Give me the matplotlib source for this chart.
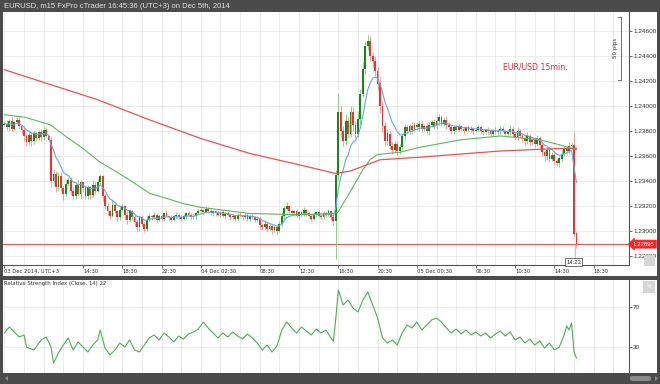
import numpy as np
import pandas as pd
import matplotlib
matplotlib.use("Agg")
import matplotlib.pyplot as plt
from matplotlib.patches import Rectangle, FancyBboxPatch, Polygon
from matplotlib.ticker import FormatStrFormatter

# ---- data (prices in pips above 1.2000, 15 min candles from 03 Dec 06:30) ----
closes = [
    386, 383, 388, 382, 387, 389, 384, 381, 376, 371, 377, 372, 378, 374, 379, 375, 381, 376, 373,
    340, 346, 335, 344, 334, 330, 338, 341, 332, 328, 337, 330, 339, 334, 328, 335, 329, 337, 332, 339, 344,
    328, 320, 316, 312, 321, 316, 311, 317, 320, 313, 309, 316, 311, 307, 303, 311, 306, 302, 309, 312,
    311, 313, 309, 312, 310, 314, 312, 311, 309, 312, 313, 311, 310, 312, 314, 313, 311, 312, 314, 316,
    317, 315, 318, 316, 314, 316, 314, 313, 315, 312, 314, 313, 311, 312, 310, 313, 312, 311, 313, 310, 312, 311, 309, 310,
    305, 303, 306, 302, 304, 301, 303, 300, 306, 312, 318, 320, 316, 314, 316, 312, 315, 313, 317, 314, 312, 310,
    313, 315, 312, 311, 314, 313, 316, 311, 308,
    345, 395, 380, 372, 388, 378, 395, 385, 378, 390, 410, 430, 448, 452, 440, 436, 428, 418, 400, 384, 372, 378,
    368, 365, 370, 364, 367, 376, 383, 380, 384, 381, 385, 383, 386, 382, 384, 380, 385, 387, 384, 388, 391, 386,
    389, 385, 383,
    380, 383, 381, 384, 382, 380, 383, 381, 382, 380, 381, 383, 380, 379, 381, 380, 378, 381, 379, 380, 382, 380,
    378, 379, 382, 378, 375, 380, 376,
    374, 372, 376, 371, 373, 370, 374, 369, 363, 360, 365, 358, 361, 356, 354, 358, 362, 366, 364, 368, 369, 298, 289.5,
]
first_open = 385
up_wick = [
    2, 3, 2, 3, 1, 2, 4, 1, 3, 2, 3, 2, 3, 1, 2, 3, 2, 2, 1,
    3, 4, 2, 3, 3, 2, 4, 2, 2, 3, 1, 4, 2, 1, 3, 2, 1, 4, 2, 3, 2,
    1, 2, 3, 1, 4, 2, 1, 3, 2, 1, 3, 2, 1, 2, 3, 1, 2, 1, 3, 2,
    1, 2, 1, 2, 2, 1, 3, 1, 2, 1, 2, 1, 2, 2, 1, 2, 1, 2, 1, 2,
    2, 1, 2, 1, 2, 1, 1, 2, 1, 2, 1, 2, 1, 2, 1, 1, 2, 1, 2, 1, 1, 2, 1, 2,
    2, 1, 2, 1, 2, 1, 2, 1, 2, 3, 2, 3, 1, 2, 1, 2, 1, 2, 2, 1, 2, 1, 2, 1, 2, 1, 2, 1, 2, 1, 2,
    4, 15, 5, 4, 6, 3, 5, 4, 3, 6, 4, 5, 4, 5, 4, 3, 4, 3, 5, 4, 3, 4,
    2, 3, 2, 2, 3, 2, 3, 2, 2, 3, 2, 2, 3, 2, 2, 3, 2, 2, 3, 4, 3, 2, 2, 3, 2,
    2, 1, 2, 2, 1, 2, 1, 2, 2, 1, 2, 2, 1, 2, 1, 2, 2, 1, 2, 1, 2, 2, 1, 2, 3, 2, 2, 3, 2,
    2, 2, 3, 2, 2, 2, 3, 2, 3, 2, 3, 2, 2, 3, 2, 2, 3, 2, 2, 3, 2, 10, 1,
]
dn_wick = [
    1, 2, 3, 2, 2, 1, 2, 3, 4, 3, 2, 4, 2, 2, 1, 3, 2, 1, 2,
    5, 3, 4, 3, 2, 5, 2, 2, 3, 3, 2, 2, 4, 3, 2, 2, 3, 2, 2, 1, 2,
    4, 2, 3, 2, 1, 2, 3, 2, 1, 4, 3, 2, 2, 3, 4, 3, 2, 3, 2, 1,
    2, 1, 2, 1, 2, 2, 1, 2, 2, 1, 2, 1, 2, 1, 2, 1, 2, 1, 2, 1,
    1, 2, 1, 2, 1, 2, 2, 1, 2, 1, 2, 1, 2, 1, 2, 2, 1, 2, 1, 2, 2, 1, 2, 2,
    3, 2, 2, 3, 2, 3, 2, 3, 1, 2, 2, 1, 2, 1, 2, 1, 2, 2, 1, 2, 1, 2, 1, 2, 1, 2, 1, 2, 1, 2, 3,
    30, 4, 5, 4, 3, 4, 3, 5, 4, 3, 4, 3, 4, 3, 4, 5, 4, 5, 6, 5, 4, 3,
    2, 3, 2, 3, 2, 2, 3, 2, 2, 3, 2, 2, 2, 3, 2, 2, 3, 2, 2, 2, 3, 2, 2, 3, 2,
    2, 2, 1, 2, 2, 2, 1, 2, 2, 2, 1, 2, 2, 2, 1, 2, 2, 2, 1, 2, 2, 1, 2, 2, 2, 3, 2, 2, 2,
    2, 3, 2, 3, 2, 3, 2, 3, 3, 4, 3, 3, 2, 3, 2, 3, 2, 2, 2, 2, 2, 2, 3,
]

# slower moving averages, read at candle positions
ma_green_k = [0, 8.4, 18.6, 25.5, 32, 39, 45.9, 52.4, 59.3, 66.2, 72.7, 79.7, 100, 120, 134,
              135.9, 139.5, 142.8, 146, 148.9, 151.8, 155.8, 161.1, 169.3, 186, 202, 218, 226, 233]
ma_green = [393, 391, 385, 375, 366, 355, 347, 339, 330, 326, 322, 319, 314, 313, 314,
            315, 327, 338, 349, 357, 361, 362, 363, 367, 373, 376, 373, 369, 365]
ma_red_k = [0, 19, 38, 59, 80, 100, 120, 135, 141, 149, 153, 169, 202, 226, 233]
ma_red = [429, 417, 405, 389, 374, 362, 353, 346, 348, 354, 357, 359, 364, 366, 366]

# RSI(14)
rsi_k = [0, 2, 6, 8, 9, 12, 15, 17, 19, 20, 22, 24, 26, 28, 30, 32, 34, 36, 38, 39, 41, 43, 45, 47, 49, 51, 53,
         55, 57, 59, 61, 63, 65, 67, 69, 71, 73, 75, 77, 79, 81, 83, 85, 87, 89, 91, 93, 95, 97, 99, 101, 103,
         105, 107, 109, 111, 113, 115, 117, 119, 121, 123, 125, 127, 129, 131, 133, 134, 135, 136, 138, 140,
         142, 144, 146, 148, 150, 152, 154, 156, 158, 160, 162, 164, 166, 168, 170, 172, 174, 176, 178, 180,
         182, 184, 186, 188, 190, 192, 194, 196, 198, 200, 202, 204, 206, 208, 210, 212, 214, 216, 218, 220,
         222, 224, 226, 228, 229, 230, 231, 232, 233]
rsi = [44, 50, 40, 42, 30, 27, 37, 40, 30, 14, 24, 32, 39, 27, 35, 30, 25, 32, 37, 47, 29, 22, 27, 34, 30, 37, 27,
       25, 32, 39, 42, 37, 44, 40, 35, 41, 38, 43, 45, 48, 55, 49, 44, 39, 44, 40, 45, 41, 38, 43, 39, 34,
       27, 32, 25, 31, 47, 55, 49, 44, 50, 46, 42, 48, 44, 47, 39, 36, 59, 87, 72, 77,
       69, 65, 77, 85, 72, 59, 39, 34, 37, 32, 44, 52, 49, 55, 47, 52, 57, 59, 55, 49,
       44, 48, 43, 47, 42, 45, 41, 44, 39, 43, 46, 41, 45, 37, 40, 34, 38, 32, 36, 29,
       34, 27, 30, 42, 51, 47, 54, 25, 19]

start = pd.Timestamp("2014-12-03 06:30")
tick_times = ["2014-12-03 06:30", "2014-12-03 14:30", "2014-12-03 18:30", "2014-12-03 22:30",
              "2014-12-04 02:30", "2014-12-04 08:30", "2014-12-04 12:30", "2014-12-04 16:30",
              "2014-12-04 20:30", "2014-12-05 00:30", "2014-12-05 06:30", "2014-12-05 10:30",
              "2014-12-05 14:30", "2014-12-05 18:30"]
tick_labels = ["03 Dec 2014, UTC+3", "14:30", "18:30", "22:30", "04 Dec 02:30", "08:30", "12:30",
               "16:30", "20:30", "05 Dec 00:30", "06:30", "10:30", "14:30", "18:30"]
last_price = 1.22895

# ---- helpers ----
W, H = 660, 384
FRAME = "#4b4b4b"


def px(v):
    return 1.2 + np.asarray(v, dtype=float) / 10000.0


def box(x0, y0, x1, y1):
    return [x0 / W, 1 - y1 / H, (x1 - x0) / W, (y1 - y0) / H]


c = px(closes)
o = px([first_open] + closes[:-1])
hi = np.maximum(o, c) + np.array(up_wick) / 10000.0
lo = np.minimum(o, c) - np.array(dn_wick) / 10000.0
k = np.arange(len(c))
tick_k = [(pd.Timestamp(t) - start) / pd.Timedelta("15min") for t in tick_times]
xmin, xmax = -0.57, 254.4

plt.rcParams["font.family"] = ["DejaVu Sans"]
fig = plt.figure(figsize=(6.6, 3.84), dpi=100, facecolor=FRAME)

# white panels
for r in [(3, 12, 657, 276), (3, 280, 657, 373)]:
    b = box(*r)
    fig.add_artist(Rectangle((b[0], b[1]), b[2], b[3], transform=fig.transFigure,
                             fc="white", ec="none", zorder=0))

fig.text(4 / W, 1 - 6 / H, "EURUSD, m15 FxPro cTrader 16:45:36 (UTC+3) on Dec 5th, 2014",
         color="#e6e6e6", fontsize=5.5, family="Liberation Sans", va="center", ha="left")

# ---- price panel ----
ax = fig.add_axes(box(3, 12, 629, 265))
ax.set_facecolor("white")
ax.set_xlim(xmin, xmax)
ax.set_ylim(1.22728, 1.24752)

rising = c >= o
body_col = np.where(rising, "#138a13", "#ff2a2a")
wick_col = np.where(rising, "#7cc77c", "#ff8a8a")
ax.vlines(k, lo, hi, colors=wick_col, lw=0.6, zorder=3)
body_h = np.maximum(np.abs(c - o), 0.00003)
ax.bar(k, body_h, bottom=np.minimum(o, c), width=0.74, color=body_col, linewidth=0, zorder=4)

ema = pd.Series(c).ewm(span=9, adjust=False).mean()
ax.plot(k, ema, color="#64a8e6", lw=0.8, zorder=5)
ax.plot(ma_green_k, px(ma_green), color="#5cb85c", lw=0.8, zorder=5)
ax.plot(ma_red_k, px(ma_red), color="#f05050", lw=0.9, zorder=5)

ax.axhline(last_price, color="#ff4a4a", lw=0.7, zorder=2)
ax.text(1.006, last_price, "1.22895", transform=ax.get_yaxis_transform(), fontsize=4.4,
        family="Liberation Sans", color="white", va="center", ha="left", clip_on=False, zorder=10,
        bbox=dict(boxstyle="larrow,pad=0.25", fc="#ff2020", ec="#ff2020", lw=0.5))
ax.vlines(232.3, 1.22765, last_price, color="#ffa0a0", lw=0.6, zorder=3)
ax.text(231.8, 1.22752, "14:23", fontsize=4.2, color="#222", ha="center", va="center",
        family="Liberation Sans", zorder=10, clip_on=False,
        bbox=dict(boxstyle="square,pad=0.25", fc="white", ec="#333", lw=0.5))

ax.text(0.799, 0.783, "EUR/USD 15min.", transform=ax.transAxes, fontsize=5.6,
        color="#e8262c", va="center", ha="left")

# 50 pips bracket
bt, bb = 1.24712, 1.24212
ax.plot([249.9, 251.2, 251.2, 249.9], [bt, bt, bb, bb], color="#555", lw=0.6, zorder=6)
ax.text(249.0, (bt + bb) / 2, "50 pips", rotation=90, fontsize=4.0, color="#333",
        ha="center", va="center")

for s in ["top", "left"]:
    ax.spines[s].set_visible(False)
for s in ["right", "bottom"]:
    ax.spines[s].set_color("#555")
    ax.spines[s].set_linewidth(0.8)

ax.yaxis.tick_right()
ax.set_yticks(np.arange(1.228, 1.2461, 0.002))
ax.yaxis.set_major_formatter(FormatStrFormatter("%.5f"))
ax.set_xticks(tick_k)
ax.set_xticklabels(tick_labels)
for lab in ax.get_xticklabels():
    lab.set_horizontalalignment("left")
for lab in ax.get_yticklabels():
    lab.set_family("Liberation Sans")
ax.set_xticks(np.arange(0, 255, 8), minor=True)
ax.tick_params(axis="y", labelsize=4.6, length=2, width=0.5, colors="#333", pad=1)
ax.tick_params(axis="x", which="major", labelsize=3.8, length=2, width=0.5, colors="#333", pad=1)
ax.tick_params(axis="x", which="minor", length=0)
ax.grid(True, which="both", color="#e9e9e9", lw=0.6, zorder=0)
ax.set_axisbelow(True)

# ---- RSI panel ----
ax2 = fig.add_axes(box(3, 280, 629, 373))
ax2.set_facecolor("white")
ax2.set_xlim(xmin, xmax)
ax2.set_ylim(4, 97)
ax2.plot(rsi_k, rsi, color="#4caf50", lw=0.8)
ax2.text(0.002, 0.957, "Relative Strength Index (Close, 14) 22", transform=ax2.transAxes,
         fontsize=3.9, color="#333", va="center", ha="left")
for s in ["top", "left", "bottom"]:
    ax2.spines[s].set_visible(False)
ax2.spines["right"].set_color("#555")
ax2.spines["right"].set_linewidth(0.8)
ax2.yaxis.tick_right()
ax2.set_yticks([30, 70])
for lab in ax2.get_yticklabels():
    lab.set_family("Liberation Sans")
ax2.set_xticks([])
ax2.set_xticks(np.arange(0, 255, 8), minor=True)
ax2.tick_params(axis="y", labelsize=4.6, length=2, width=0.5, colors="#333", pad=1)
ax2.tick_params(axis="x", which="minor", length=0)
ax2.grid(True, which="both", color="#e9e9e9", lw=0.6)
ax2.set_axisbelow(True)

# little window widgets
for r in [(644, 255, 655, 266), (643, 281, 655, 293)]:
    b = box(*r)
    fig.add_artist(Rectangle((b[0], b[1]), b[2], b[3], transform=fig.transFigure,
                             fc="#d6d6d6", ec="none", zorder=5))
b = box(643, 281, 655, 293)
fig.text(b[0] + b[2] / 2, b[1] + b[3] / 2, "×", fontsize=6, color="#f2f2f2",
         ha="center", va="center", zorder=6)
b = box(630, 376, 651, 381)
fig.add_artist(FancyBboxPatch((b[0], b[1]), b[2], b[3], boxstyle="round,pad=0,rounding_size=0.004",
                              transform=fig.transFigure, fc="#8a8a8a", ec="none"))
for tri in [[(655, 376), (658, 378.5), (655, 381)], [(8, 376), (5, 378.5), (8, 381)]]:
    fig.add_artist(Polygon([(x / W, 1 - y / H) for x, y in tri], closed=True,
                           transform=fig.transFigure, fc="#8a8a8a", ec="none"))

fig.savefig("out.png", dpi=100, facecolor=FRAME)
